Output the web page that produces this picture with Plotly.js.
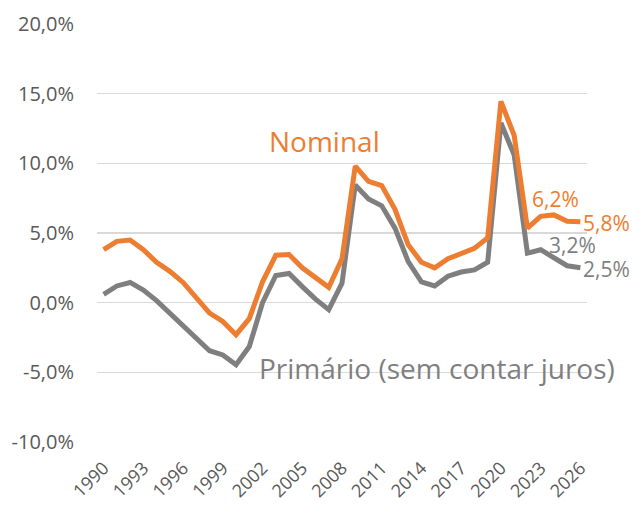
<!DOCTYPE html>
<html>
<head>
<meta charset="utf-8">
<script src="https://cdn.plot.ly/plotly-3.0.1.min.js"></script>
<style>html,body{margin:0;padding:0;background:#fff;overflow:hidden;}#chart{width:632px;height:509px;}</style>
</head>
<body>
<div id="chart"></div>
<script>
const years = [1990,1991,1992,1993,1994,1995,1996,1997,1998,1999,2000,2001,2002,2003,2004,2005,2006,2007,2008,2009,2010,2011,2012,2013,2014,2015,2016,2017,2018,2019,2020,2021,2022,2023,2024,2025,2026];
const nominal = [3.8,4.4,4.5,3.8,2.9,2.25,1.45,0.35,-0.75,-1.35,-2.3,-1.15,1.5,3.4,3.45,2.5,1.85,1.1,3.15,9.8,8.7,8.4,6.7,4.15,2.9,2.5,3.15,3.5,3.9,4.65,14.45,12.0,5.35,6.2,6.3,5.85,5.8];
const primario = [0.6,1.2,1.45,0.9,0.15,-0.75,-1.6,-2.55,-3.45,-3.75,-4.45,-3.15,0.0,1.95,2.1,1.15,0.25,-0.5,1.4,8.45,7.45,6.95,5.35,2.95,1.5,1.2,1.9,2.2,2.35,2.9,12.9,10.6,3.55,3.8,3.2,2.65,2.5];
const tickYears = [1990,1993,1996,1999,2002,2005,2008,2011,2014,2017,2020,2023,2026];
const yTicks = [-10,-5,0,5,10,15,20];

const ORANGE = '#ED7D31', GREY = '#7F7F7F';
const fmt = v => v.toFixed(1).replace('.', ',') + '%';
const idx = y => years.indexOf(y);

const traces = [
  {x: years, y: primario, type: 'scatter', mode: 'lines', line: {color: GREY, width: 5}, hoverinfo: 'skip'},
  {x: years, y: nominal, type: 'scatter', mode: 'lines', line: {color: ORANGE, width: 5}, hoverinfo: 'skip'}
];

const annFont = (c) => ({family: 'Open Sans, sans-serif', size: 28, color: c});
const lblFont = (c) => ({family: 'Open Sans, sans-serif', size: 21, color: c});

const annotations = [
  {x: 2006.7, y: 11.6, xref: 'x', yref: 'y', text: 'Nominal', showarrow: false, font: annFont(ORANGE)},
  {x: 2015.2, y: -4.7, xref: 'x', yref: 'y', text: 'Primário (sem contar juros)', showarrow: false, font: annFont(GREY)},
  {x: 2023, y: nominal[idx(2023)], xref: 'x', yref: 'y', text: fmt(nominal[idx(2023)]), showarrow: false, font: lblFont(ORANGE), xshift: 15, yshift: 17},
  {x: 2026, y: nominal[idx(2026)], xref: 'x', yref: 'y', text: fmt(nominal[idx(2026)]), showarrow: false, font: lblFont(ORANGE), xanchor: 'left', xshift: 1, yshift: -1},
  {x: 2024, y: primario[idx(2024)], xref: 'x', yref: 'y', text: fmt(primario[idx(2024)]), showarrow: false, font: lblFont(GREY), xshift: 19, yshift: 13},
  {x: 2026, y: primario[idx(2026)], xref: 'x', yref: 'y', text: fmt(primario[idx(2026)]), showarrow: false, font: lblFont(GREY), xanchor: 'left', xshift: 1, yshift: -1}
];

const layout = {
  width: 632, height: 509,
  margin: {l: 97, r: 45, t: 24, b: 67},
  paper_bgcolor: '#fff', plot_bgcolor: '#fff',
  showlegend: false,
  separators: ',.',
  font: {family: 'Open Sans, sans-serif', color: '#595959'},
  xaxis: {
    range: [1989.5, 2026.5], tickvals: tickYears, ticktext: tickYears.map(String),
    tickangle: -45, showgrid: false, zeroline: false, showline: false,
    tickfont: {size: 18, color: '#595959'}, ticks: '', ticklabelstandoff: 11
  },
  yaxis: {
    range: [-10, 20], tickvals: yTicks, ticktext: yTicks.map(fmt),
    showgrid: true, gridcolor: '#D9D9D9', gridwidth: 1.5, zeroline: false, showline: false,
    tickfont: {size: 20, color: '#595959'}, ticks: '', ticklabelstandoff: 22
  },
  annotations: annotations
};

Plotly.newPlot('chart', traces, layout, {staticPlot: true, displayModeBar: false});
</script>
</body>
</html>
